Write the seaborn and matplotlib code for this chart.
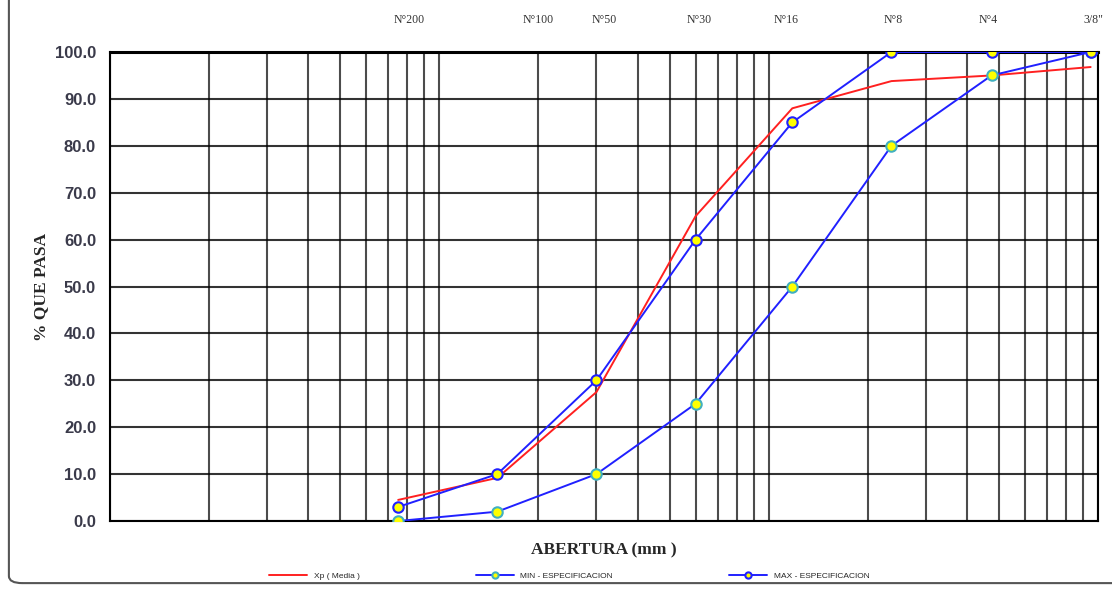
import numpy as np
import pandas as pd
import matplotlib
matplotlib.use("Agg")
import matplotlib.pyplot as plt
import seaborn as sns
from matplotlib.patches import FancyBboxPatch
from matplotlib.ticker import FixedLocator, NullFormatter

# sieve openings (mm) and % passing
abertura = [0.075, 0.15, 0.3, 0.6, 1.18, 2.36, 4.75, 9.5]
xp_media = [4.5, 9.2, 27.5, 65.0, 88.0, 93.8, 95.0, 96.8]
min_esp = [0.0, 2.0, 10.0, 25.0, 50.0, 80.0, 95.0, 100.0]
max_esp = [3.0, 10.0, 30.0, 60.0, 85.0, 100.0, 100.0, 100.0]

tamiz_labels = ["N°200", "N°100", "N°50", "N°30", "N°16", "N°8", "N°4", '3/8"']
# where the sieve names sit above the chart (mm)
tamiz_label_x = [0.081, 0.20, 0.316, 0.614, 1.13, 2.39, 4.64, 9.66]

y_ticks = np.arange(0, 101, 10)

df = pd.DataFrame({"abertura": abertura, "xp": xp_media, "min": min_esp, "max": max_esp})

sns.set_style("white")
plt.rcParams["font.family"] = ["Liberation Sans", "DejaVu Sans"]

fig = plt.figure(figsize=(11.12, 5.89), dpi=100)
ax = fig.add_axes([0.0989, 0.1154, 0.8885, 0.7963])

# log grid: decades plus 2..9 subdivisions
grid_x = [m * 10.0 ** e for e in (-2, -1, 0) for m in range(1, 10)] + [10.0]
for gx in grid_x:
    ax.axvline(gx, color="black", lw=1.5, alpha=0.7, zorder=1)
for gy in y_ticks:
    ax.axhline(gy, color="black", lw=1.5, alpha=0.8, zorder=1)

sns.lineplot(data=df, x="abertura", y="xp", ax=ax, color="#ff2020", lw=1.4,
             label="Xp ( Media )", zorder=3)
sns.lineplot(data=df, x="abertura", y="min", ax=ax, color="#2020ff", lw=1.4,
             marker="o", markersize=7.5, markerfacecolor="#ffff00",
             markeredgecolor="#40b0c0", markeredgewidth=1.5,
             label="MIN - ESPECIFICACION", zorder=4)
sns.lineplot(data=df, x="abertura", y="max", ax=ax, color="#2020ff", lw=1.4,
             marker="o", markersize=7.5, markerfacecolor="#ffff00",
             markeredgecolor="#2020ff", markeredgewidth=1.5,
             label="MAX - ESPECIFICACION", zorder=4)

ax.set_xscale("log")
ax.set_xlim(0.01, 10)
ax.set_ylim(0, 100)
ax.xaxis.set_major_locator(FixedLocator([]))
ax.xaxis.set_minor_formatter(NullFormatter())
ax.tick_params(axis="x", which="both", length=0)
ax.set_yticks(y_ticks)
ax.set_yticklabels([f"{v:.1f}" for v in y_ticks], fontsize=12, fontweight="bold", color="#3a3a4a")
ax.tick_params(axis="y", direction="out", length=6, width=1.3, color="black", pad=4)

for side in ["left", "bottom", "right", "top"]:
    ax.spines[side].set_color("black")
    ax.spines[side].set_linewidth(1.5)
ax.spines["top"].set_linewidth(2.2)

ax.set_ylabel("% QUE PASA", family="Liberation Serif", fontsize=12.5, fontweight="bold", labelpad=4)
ax.set_xlabel("ABERTURA (mm )", family="Liberation Serif", fontsize=12.5, fontweight="bold", labelpad=12)

for lx, lab in zip(tamiz_label_x, tamiz_labels):
    ax.text(lx, 1.055, lab, transform=ax.get_xaxis_transform(), ha="center", va="bottom",
            family="Liberation Serif", fontsize=8.5, color="#333333")

ax.get_legend().remove()
h, l = ax.get_legend_handles_labels()
fig.legend(h, l, loc="center", bbox_to_anchor=(0.512, 0.022), ncol=3, frameon=False,
           fontsize=6, handlelength=4.5, columnspacing=14, markerscale=0.6)

border = FancyBboxPatch((0.008, 0.01), 1.1, 1.2, boxstyle="round,pad=0,rounding_size=0.012",
                        transform=fig.transFigure, fill=False, edgecolor="#555555", lw=1.5)
fig.patches.append(border)

fig.savefig("out.png", dpi=100)
